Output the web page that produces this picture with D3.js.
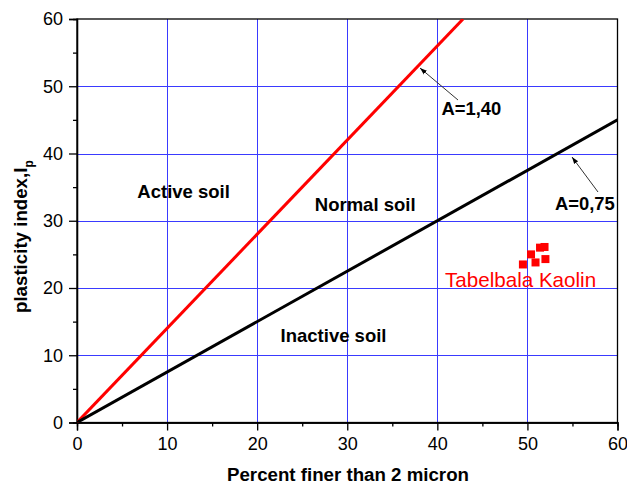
<!DOCTYPE html>
<html><head><meta charset="utf-8">
<script src="https://cdn.jsdelivr.net/npm/d3@7"></script>
<style>body{margin:0;background:#fff}text{font-family:"Liberation Sans",Arial,sans-serif}</style>
</head><body><svg id="c" width="627" height="485"></svg>
<script>
const xTicks=[0,10,20,30,40,50,60];
const yTicks=[0,10,20,30,40,50,60];
const activityLines=[{name:"A=1,40",a:1.40,color:"#ff0000"},{name:"A=0,75",a:0.75,color:"#000000"}];
const kaolinX=[49.5,50.4,50.9,51.4,51.9,52.0];
const kaolinY=[23.5,25.0,23.8,26.0,26.1,24.3];
const regionLabels=[{t:"Active soil",x:6.7,y:33.35},{t:"Normal soil",x:26.4,y:31.46},{t:"Inactive soil",x:22.6,y:11.95}];

const svg=d3.select("#c");
const L=77,R=617.5,T=19,B=422.5;
const x=d3.scaleLinear().domain([0,60]).range([L,R]);
const y=d3.scaleLinear().domain([0,60]).range([B,T]);
const px=v=>Math.round(v)+0.5;
const g=svg.append("g");
// grid
g.selectAll(".gx").data(xTicks.filter(d=>d>0&&d<60)).enter().append("line")
 .attr("x1",d=>px(x(d))).attr("x2",d=>px(x(d))).attr("y1",T).attr("y2",B).attr("stroke","#3a3aff").attr("stroke-width",1);
g.selectAll(".gy").data(yTicks.filter(d=>d>0&&d<60)).enter().append("line")
 .attr("y1",d=>px(y(d))).attr("y2",d=>px(y(d))).attr("x1",L).attr("x2",R).attr("stroke","#3a3aff").attr("stroke-width",1);
// frame
g.append("rect").attr("x",L).attr("y",T).attr("width",R-L).attr("height",B-T).attr("fill","none").attr("stroke","#000").attr("stroke-width",1.3);
// axes
const xAx=svg.append("g").attr("transform",`translate(0,${B})`).call(d3.axisBottom(x).tickValues(xTicks).tickSize(8).tickPadding(7).tickFormat(d3.format("d")));
const xMin=svg.append("g").attr("transform",`translate(0,${B})`).call(d3.axisBottom(x).tickValues(d3.range(5,60,10)).tickSize(4).tickFormat(""));
const yAx=svg.append("g").attr("transform",`translate(${L},0)`).call(d3.axisLeft(y).tickValues(yTicks).tickSize(8).tickPadding(6).tickFormat(d3.format("d")));
const yMin=svg.append("g").attr("transform",`translate(${L},0)`).call(d3.axisLeft(y).tickValues(d3.range(5,60,10)).tickSize(4).tickFormat(""));
[xAx,xMin,yAx,yMin].forEach(a=>{a.select(".domain").attr("stroke-width",1.3);a.selectAll("line").attr("stroke-width",1.3);a.selectAll("text").attr("font-size",18).attr("font-family","Liberation Sans, Arial, sans-serif").attr("fill","#000");});
// activity lines
svg.append("defs").append("clipPath").attr("id","clip").append("rect").attr("x",L).attr("y",T).attr("width",R-L).attr("height",B-T);
activityLines.forEach(l=>{
  const xe=Math.min(60,60/l.a);
  svg.append("line").attr("clip-path","url(#clip)").attr("x1",x(0)).attr("y1",y(0)).attr("x2",x(xe)).attr("y2",y(l.a*xe)).attr("stroke",l.color).attr("stroke-width",3);
});
// annotations
const defs=svg.select("defs");
defs.append("marker").attr("id","ah").attr("viewBox","0 0 10 10").attr("refX",10).attr("refY",5).attr("markerWidth",7).attr("markerHeight",7).attr("orient","auto")
 .append("path").attr("d","M0,1.5 L10,5 L0,8.5 Z").attr("fill","#000");
const ann=[{t:"A=1,40",tx:441.5,ty:115,x1:458,y1:100,x2:420,y2:68},{t:"A=0,75",tx:555,ty:210,x1:598,y1:192,x2:572,y2:157}];
ann.forEach(a=>{
  svg.append("line").attr("x1",a.x1).attr("y1",a.y1).attr("x2",a.x2).attr("y2",a.y2).attr("stroke","#333").attr("stroke-width",1).attr("marker-end","url(#ah)");
  svg.append("text").attr("x",a.tx).attr("y",a.ty).attr("font-size",18.4).attr("font-weight","bold").text(a.t);
});
regionLabels.forEach(r=>svg.append("text").attr("x",x(r.x)).attr("y",y(r.y)).attr("font-size",18.5).attr("font-weight","bold").text(r.t));
// data
svg.selectAll(".pt").data(kaolinX.map((d,i)=>[d,kaolinY[i]])).enter().append("rect")
 .attr("x",d=>x(d[0])-4).attr("y",d=>y(d[1])-4).attr("width",8).attr("height",8).attr("fill","#ff0000");
svg.append("text").attr("x",445).attr("y",286.5).attr("font-size",20.6).attr("fill","#ff0000").text("Tabelbala Kaolin");
// axis titles
svg.append("text").attr("x",227).attr("y",481).attr("font-size",18.7).attr("font-weight","bold").text("Percent finer than 2 micron");
const yt=svg.append("text").attr("transform","translate(27,313) rotate(-90)").attr("font-size",18.7).attr("font-weight","bold");
yt.append("tspan").text("plasticity index,I");
yt.append("tspan").attr("font-size",12).attr("dy",6).text("p");
</script></body></html>
